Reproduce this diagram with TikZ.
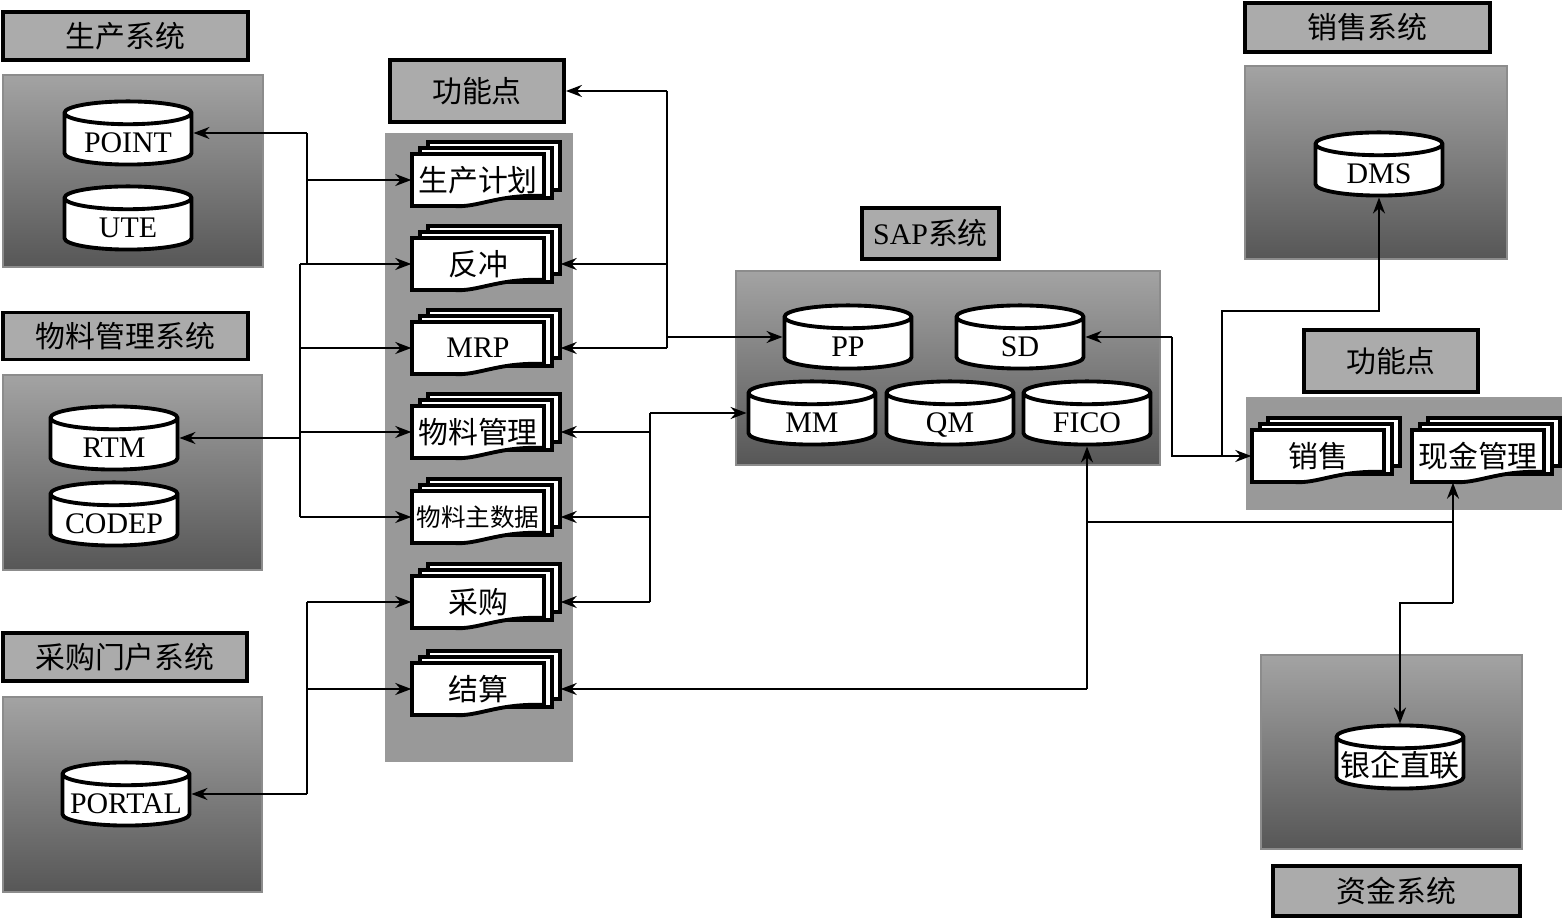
\documentclass[tikz,border=0pt]{standalone}
\usepackage{fontspec}
\setmainfont{Liberation Serif}
\newfontfamily\cjk{Noto Sans CJK SC}
\usetikzlibrary{calc,arrows.meta,shapes.geometric}
\newcommand{\bodysize}{\fontsize{8.5pt}{10pt}\selectfont}
% stacked document: name, centre, text
\newcommand{\fdoc}[3]{%
  \draw[docedge] ($(#2)+(-50,-38)$) rectangle ($(#2)+(82,10)$);
  \draw[docedge] ($(#2)+(-58,-32)$) rectangle ($(#2)+(74,18)$);
  \draw[docedge] ($(#2)+(-66,-26)$) -- ($(#2)+(66,-26)$) -- ($(#2)+(66,16)$)
    .. controls ($(#2)+(20,14)$) and ($(#2)+(0,28)$) .. ($(#2)+(-24,26)$) -- ($(#2)+(-66,26)$) -- cycle;
  \node[doctext] (#1) at (#2) {#3};
}
\tikzset{
  syslabel/.style={draw, line width=1.1pt, fill=black!33, inner sep=0pt, font=\cjk\bodysize},
  dbase/.style={cylinder, shape border rotate=90, aspect=0.19, draw, line width=1.1pt,
    cylinder uses custom fill, cylinder body fill=white, cylinder end fill=white,
    text width=12mm, align=center, text height=2.6mm, text depth=0.1mm,
    minimum width=12.7mm, minimum height=6.2mm, inner sep=0pt, anchor=shape center, font=\bodysize},
  panel/.style={top color=black!36, bottom color=black!66, draw=black!45, line width=0.3pt},
  colbg/.style={fill=black!40},
  link/.style={line width=0.6pt},
  arr/.style={link, -{Stealth[length=1.6mm,width=1.2mm]}},
  docedge/.style={draw, fill=white, line width=1.1pt},
  doctext/.style={minimum width=13.2mm, minimum height=5.2mm, inner sep=0pt, font=\cjk\bodysize},
}
\begin{document}
\begin{tikzpicture}[x=0.1mm, y=-0.1mm]
  \useasboundingbox (0,0) rectangle (1562,918);

  % panels
  \shade[panel] (3,75) rectangle (263,267);
  \shade[panel] (3,375) rectangle (262,570);
  \shade[panel] (3,697) rectangle (262,892);
  \shade[panel] (736,271) rectangle (1160,465);
  \shade[panel] (1245,66) rectangle (1507,259);
  \shade[panel] (1261,655) rectangle (1522,849);
  \fill[colbg] (385,133) rectangle (573,762);
  \fill[colbg] (1246,397) rectangle (1562,510);

  % titles
  \node[syslabel, minimum width=24.5mm, minimum height=4.8mm] (prodtitle) at (125.5,36) {生产系统};
  \node[syslabel, minimum width=24.5mm, minimum height=4.7mm] (mattitle) at (125.5,336) {物料管理系统};
  \node[syslabel, minimum width=24.4mm, minimum height=4.8mm] (purtitle) at (125,657) {采购门户系统};
  \node[syslabel, minimum width=17.4mm, minimum height=6.2mm] (fpl) at (477,91) {功能点};
  \node[syslabel, minimum width=13.7mm, minimum height=5.1mm] (saptitle) at (930.5,233.5) {\rmfamily SAP\cjk 系统};
  \node[syslabel, minimum width=24.5mm, minimum height=4.9mm] (saltitle) at (1367.5,27.5) {销售系统};
  \node[syslabel, minimum width=17.4mm, minimum height=6.2mm] (fpr) at (1391,361) {功能点};
  \node[syslabel, minimum width=24.7mm, minimum height=5mm] (fintitle) at (1396.5,891) {资金系统};

  % databases
  \node[dbase] (point) at (128,133) {POINT};
  \node[dbase] (ute) at (128,218) {UTE};
  \node[dbase] (rtm) at (114,438) {RTM};
  \node[dbase] (codep) at (114,514) {CODEP};
  \node[dbase] (portal) at (126,794) {PORTAL};
  \node[dbase] (pp) at (848,337) {PP};
  \node[dbase] (sd) at (1020,337) {SD};
  \node[dbase] (mm) at (812,413) {MM};
  \node[dbase] (qm) at (950,413) {QM};
  \node[dbase] (fico) at (1087,413) {FICO};
  \node[dbase] (dms) at (1379,164) {DMS};
  \node[dbase, font=\cjk\bodysize] (bank) at (1400,757) {银企直联};

  % function points
  \fdoc{plan}{478,180}{生产计划}
  \fdoc{backflush}{478,264}{反冲}
  \fdoc{mrp}{478,348}{\rmfamily MRP}
  \fdoc{matmgmt}{478,432}{物料管理}
  \fdoc{mdata}{478,517}{\fontsize{7pt}{8pt}\selectfont 物料主数据}
  \fdoc{purchase}{478,602}{采购}
  \fdoc{settle}{478,689}{结算}
  \fdoc{sales}{1318,456}{销售}
  \fdoc{cash}{1478,456}{现金管理}

  % buses
  \coordinate (busL) at (307,0);
  \coordinate (busB) at (300,0);
  \coordinate (busF) at (667,0);
  \coordinate (busM) at (650,0);
  \coordinate (busS) at (1172,0);
  \coordinate (busD) at (1222,0);
  \coordinate (dmsrow) at (0,311);
  \coordinate (cashrow) at (0,522);
  \coordinate (bankrow) at (0,603);
  \coordinate (cashfoot) at ([xshift=-2.5mm]cash.south);
  \coordinate (pointin) at (point.east |- point.shape center);
  \coordinate (rtmin) at (rtm.east |- rtm.shape center);
  \coordinate (portalin) at (portal.east |- portal.shape center);
  \coordinate (ppin) at (pp.west |- pp.shape center);
  \coordinate (mmin) at (mm.west |- mm.shape center);
  \coordinate (sdin) at (sd.east |- sd.shape center);

  % left side
  \draw[link] (pointin -| busL) -- (backflush.west -| busL);
  \draw[arr] (pointin -| busL) -- (pointin);
  \draw[arr] (plan.west -| busL) -- (plan.west);
  \draw[link] (backflush.west -| busB) -- (mdata.west -| busB);
  \draw[arr] (backflush.west -| busB) -- (backflush.west);
  \draw[arr] (mrp.west -| busB) -- (mrp.west);
  \draw[arr] (matmgmt.west -| busB) -- (matmgmt.west);
  \draw[arr] (mdata.west -| busB) -- (mdata.west);
  \draw[arr] (rtmin -| busB) -- (rtmin);
  \draw[link] (purchase.west -| busL) -- (portalin -| busL);
  \draw[arr] (purchase.west -| busL) -- (purchase.west);
  \draw[arr] (settle.west -| busL) -- (settle.west);
  \draw[arr] (portalin -| busL) -- (portalin);

  % right of the column
  \draw[link] (fpl.east -| busF) -- (mrp.east -| busF);
  \draw[arr] (fpl.east -| busF) -- (fpl.east);
  \draw[arr] (backflush.east -| busF) -- ([xshift=1.6mm]backflush.east);
  \draw[arr] (mrp.east -| busF) -- ([xshift=1.6mm]mrp.east);
  \draw[arr] (ppin -| busF) -- (ppin);
  \draw[link] (mmin -| busM) -- (purchase.east -| busM);
  \draw[arr] (mmin -| busM) -- (mmin);
  \draw[arr] (matmgmt.east -| busM) -- ([xshift=1.6mm]matmgmt.east);
  \draw[arr] (mdata.east -| busM) -- ([xshift=1.6mm]mdata.east);
  \draw[arr] (purchase.east -| busM) -- ([xshift=1.6mm]purchase.east);
  \draw[arr] (fico.south |- settle.east) -- (fico.south);
  \draw[arr] (fico.south |- settle.east) -- ([xshift=1.6mm]settle.east);

  % SAP to sales and finance
  \draw[arr] (sdin -| busS) -- (sdin);
  \draw[arr] (sdin -| busS) |- (sales.west);
  \draw[arr] (sales.west -| busD) -- (busD |- dmsrow) -| (dms.south);
  \draw[link] (fico.south |- cashrow) -- (cashfoot |- cashrow);
  \draw[arr] (cashfoot |- bankrow) -- (cashfoot);
  \draw[arr] (cashfoot |- bankrow) -| (bank.north);
\end{tikzpicture}
\end{document}
